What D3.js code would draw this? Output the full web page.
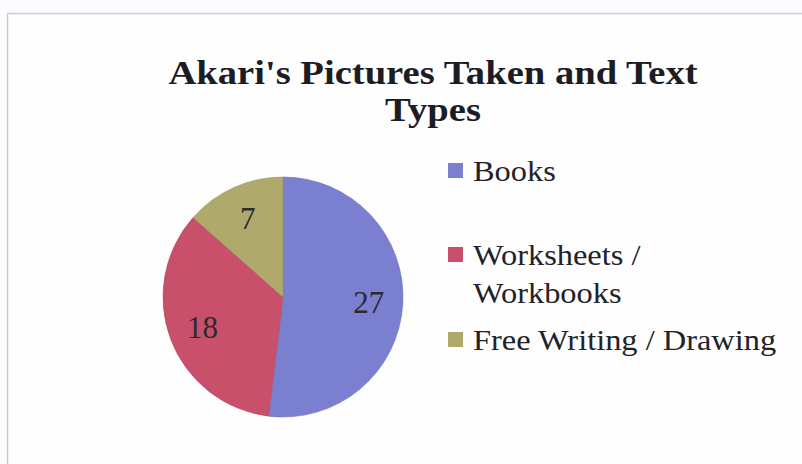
<!DOCTYPE html>
<html>
<head>
<meta charset="utf-8">
<script src="https://cdn.jsdelivr.net/npm/d3@7"></script>
<style>
  body { margin: 0; background: #fcfcfe; }
  svg { display: block; }
</style>
</head>
<body>
<div id="chart"></div>
<script>
// data
const categories = ["Books", "Worksheets / Workbooks", "Free Writing / Drawing"]
const legendLines = [["Books"], ["Worksheets /", "Workbooks"], ["Free Writing / Drawing"]]
const counts = [27, 18, 7]
const colours = ["#7b7fcf", "#c8506a", "#b0a96c"]
const titleLines = ["Akari's Pictures Taken and Text", "Types"]

const width = 802
const height = 464
const serif = "'Liberation Serif', 'Times New Roman', serif"

const svg = d3.select("#chart")
    .append("svg")
    .attr("width", width)
    .attr("height", height)

// chart frame (runs off the right and bottom of the photo)
svg.append("rect")
    .attr("x", 7.5)
    .attr("y", 13.5)
    .attr("width", 820)
    .attr("height", 480)
    .attr("fill", "#fefeff")
    .attr("stroke", "#c9c9dc")
    .attr("stroke-width", 1.5)

// title (the scan is a bit stretched sideways, hence the scale)
svg.append("g")
    .selectAll("text")
    .data(titleLines)
    .enter()
    .append("text")
    .attr("transform", (d, i) => "translate(433," + (84 + i * 37) + ") scale(1.17,1)")
    .attr("text-anchor", "middle")
    .style("font-family", serif)
    .style("font-weight", "bold")
    .style("font-size", "33px")
    .style("fill", "#1c1c24")
    .text(d => d)

// pie
const radius = 120
const g = svg.append("g")
    .attr("transform", "translate(283,297)")

const pie = d3.pie()
    .sort(null)
    .value(d => d)

const arc = d3.arc()
    .innerRadius(0)
    .outerRadius(radius)

const labelArc = d3.arc()
    .innerRadius(86)
    .outerRadius(86)

const slices = g.selectAll(".arc")
    .data(pie(counts))
    .enter()
    .append("g")
    .attr("class", "arc")

slices.append("path")
    .attr("d", arc)
    .style("fill", (d, i) => colours[i])
    .style("stroke", (d, i) => d3.color(colours[i]).darker(0.3))
    .style("stroke-width", 0.6)

slices.append("text")
    .attr("transform", d => "translate(" + labelArc.centroid(d) + ")")
    .attr("dy", "0.35em")
    .attr("text-anchor", "middle")
    .style("font-family", serif)
    .style("font-size", "31px")
    .style("fill", "#2a2a30")
    .text(d => d.data)

// legend
const legendY = [170, 254, 339]
const legend = svg.append("g")
    .selectAll("g")
    .data(categories)
    .enter()
    .append("g")
    .attr("transform", (d, i) => "translate(448," + legendY[i] + ")")

legend.append("rect")
    .attr("x", 0)
    .attr("y", -7)
    .attr("width", 15)
    .attr("height", 15)
    .style("fill", (d, i) => colours[i])

legend.append("text")
    .attr("transform", "translate(25,11) scale(1.08,1)")
    .style("font-family", serif)
    .style("font-size", "30px")
    .style("fill", "#222228")
    .selectAll("tspan")
    .data((d, i) => legendLines[i])
    .enter()
    .append("tspan")
    .attr("x", 0)
    .attr("dy", (d, i) => i === 0 ? 0 : 38)
    .text(d => d)
</script>
</body>
</html>
